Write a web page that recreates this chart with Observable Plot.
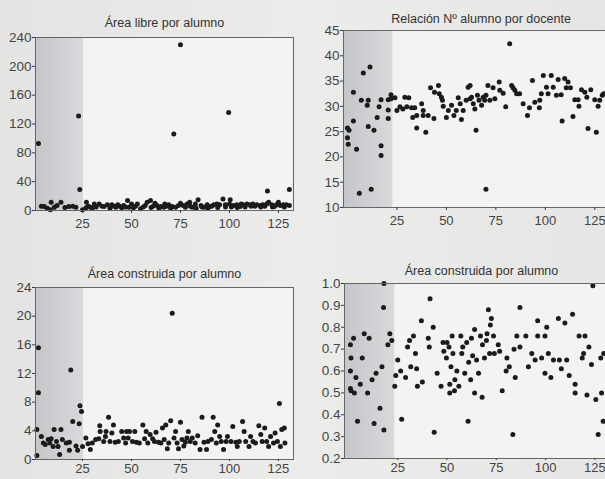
<!DOCTYPE html>
<html>
<head>
<meta charset="utf-8">
<script src="https://cdn.jsdelivr.net/npm/d3@7"></script>
<script src="https://cdn.jsdelivr.net/npm/@observablehq/plot@0.6"></script>
<style>
  html, body { margin: 0; padding: 0; background: #e7e7e5; }
  #page { position: relative; width: 605px; height: 479px; overflow: hidden;
          background: linear-gradient(90deg, #e4e4e2, #ececea 50%, #e6e6e4); }
  .panel { position: absolute; }
</style>
</head>
<body>
<div id="page"></div>
<script>
// ---------- data ----------
const titles = ["Área libre por alumno", "Relación Nº alumno por docente", "Área construida por alumno", "Área construida por alumno"];
const xTicks = [25, 50, 75, 100, 125];
const shadeEnds = [25.5, 23, 25.5, 23.5];

const libre = [[2.5,93],[4,6],[5.5,5.5],[7,3],[8.6,1],[9,11.5],[10.6,4.6],[12,7],[14,11.5],[16,4],[18,5.5],[20,6],[21.6,4.6],[23,131],[23.6,29],[25,1],[26.7,3.7],[27,11.5],[28,6],[29,4.6],[30,3],[31,9],[32,5],[33.5,9],[35,6],[36,5.5],[37.7,8],[39,3],[40,8],[41,6],[42,4.6],[43,8],[44,6],[45,3.7],[46,7],[47,5],[48,14],[48.7,4.6],[50,9],[51,3.7],[52,6],[53,9],[54.6,2.3],[56,5],[57,7],[58,11.5],[59.7,14],[60,4],[61,6],[62,10],[63,7],[64,3],[65,5.5],[66.5,4.6],[67,9],[68,6],[69,8],[70,3],[70.8,5.5],[71.6,106],[72.5,4.6],[74,7],[75,230],[75,10],[76.4,7],[77.5,4.6],[78.4,9],[79.7,11.5],[80,6],[81,4.6],[82.6,9],[83,3],[84,15],[85.5,7],[86,5],[87,4.6],[88.6,8],[89,3],[90,5.5],[91,6],[92,8],[93.6,9],[94,4],[95,8],[96.7,16],[97.9,8],[98,5],[99.6,136],[100,9],[100.4,15],[101,5],[102,7],[103.8,8],[104,4],[105.5,5.5],[106,9],[107,8],[108,5],[109,9],[110.6,8],[111,6],[112,9],[113,6],[114,8],[115.7,7],[116,5],[117,8],[118,6],[119,9],[119.4,27],[120,11.5],[121.6,8],[122,5],[123,5.5],[124,8],[125,11.5],[126,7],[127.5,8],[128,5],[129,8],[130.6,7],[130.6,29]];

const ratio = [[0,25.7],[0.8,25.3],[0,23.8],[0.4,22.5],[3,27.1],[3,32.8],[4.6,21.5],[6,12.8],[7,31.2],[8,36.6],[10.5,31.2],[11.4,37.8],[10,30.2],[10.5,26],[12,13.6],[13.4,25.3],[15,27.8],[16,29.9],[17,31.3],[17,22.2],[17,20.3],[20.6,31.3],[20.6,29.3],[20.6,27.6],[22,32.3],[22,31.5],[24,31.7],[25,29.2],[26.5,29.9],[28,29.5],[29,31.8],[30,29.9],[31,31.7],[32.4,29.7],[34,29.7],[33,27.8],[35,25.7],[35,28.2],[37.5,30.5],[38.3,29.2],[38.3,28.2],[39.6,24.9],[40.8,28.2],[42,33.7],[44,32.8],[46,34.1],[46.4,32.5],[43.7,27.6],[47.5,31.8],[48,31.2],[48.4,30],[50,27.8],[51,29.2],[52.6,30.2],[53.8,28.2],[55,29.2],[56,31.7],[57,30.5],[57.6,27.4],[58.5,29.2],[60,31.2],[61,33.8],[62,34.1],[62,31.5],[62.7,31.8],[63.6,30.5],[64.4,29.5],[65,25.3],[65.7,32.2],[66.5,31.2],[67.8,30.2],[68.6,31.8],[69.4,31.2],[70,32.2],[71,34.1],[70,13.6],[72,31.2],[73.6,33.7],[74.5,31.5],[76.7,34.8],[77,33.2],[78.7,32.6],[80,29.9],[82,42.4],[83,34.1],[83.7,33.7],[84.6,33.2],[85.5,32.5],[87,32.5],[88.8,30.5],[91,28.2],[92,29.7],[93.5,35.1],[94.7,30.8],[97,29.7],[97.2,31.2],[98,32.5],[99,36.1],[100.6,33.8],[101.4,32.5],[103,36.1],[104,33.8],[105.6,32.2],[106.5,35.3],[108,32.3],[108.5,27.1],[109.8,35.5],[110.6,33.7],[111.5,34.8],[112.7,33.7],[114,28],[114.9,31.3],[116.6,31.3],[117,30],[118.3,33.3],[120,32.8],[121,31.8],[121.6,25.6],[123,33.3],[125,31.3],[125.8,24.9],[126.7,30],[127.5,31.2],[128.8,32.2],[129.5,32.5]];

const construida = [[1.7,0.55],[1.7,4.2],[2.5,9.3],[2.5,15.6],[4,3.2],[5,2.3],[6,2.1],[7.5,2.8],[8.3,2.3],[9,2.9],[10,1.8],[10.5,4.2],[11.7,2.5],[12.5,1.8],[13.3,0.7],[14,4.2],[14.7,2.8],[16.7,2.3],[18.3,2.4],[18.3,1.3],[19,12.5],[20,5.3],[21.7,1.9],[22.5,1.3],[23.3,5],[23.7,7.5],[24.5,6.7],[25,1.8],[26.7,3],[27.8,2.2],[29,1.4],[30,2.3],[31.7,2.8],[33.3,2.9],[33.8,4.7],[34,3.9],[35.8,2.5],[36.7,3.2],[37,3.9],[38.3,5.9],[39,2.5],[40,3.7],[40.8,4.8],[41.7,2.4],[43.3,2.5],[45,3.9],[46,3],[47,2.3],[47.5,3.9],[48.3,3],[49,3.9],[50.5,2.5],[51.7,3.9],[52.5,2.4],[54,2.3],[55.8,4.8],[56.7,2.9],[57.5,3.9],[58.3,2.3],[59.5,3.5],[60.8,2.9],[61.7,2.5],[62.5,3.8],[63.8,2.4],[65,2.3],[65.8,4.4],[66.7,2.8],[67.5,4.8],[68.3,1.5],[69,2.3],[70,5.4],[70.8,20.4],[71.7,3],[72.5,3.9],[73.3,2.3],[74,1.5],[75,5.2],[75.8,2.8],[76.7,1.9],[77.5,2.4],[78.3,3],[79,3.9],[80,2.5],[81,3],[82.5,2.3],[83.8,3.3],[85,1.4],[86,5.9],[87,2.4],[88.3,1.4],[89,2.5],[90.8,2.8],[91.7,5.9],[92.5,3.9],[93.3,2.3],[94,4.8],[95,3.2],[95.8,2.5],[97,1.4],[98.3,2.5],[99,3.2],[100.8,2.5],[101.7,4.6],[103.3,2.4],[104,1.8],[105,2.5],[106.7,5.3],[107.5,3.9],[108.3,2.5],[110,1.8],[110.8,3.2],[112,2.5],[113.3,2.3],[115,4.7],[116,3.5],[116.7,2.5],[118,4.4],[119,2.5],[120,1.8],[121,3.2],[122.5,2.3],[123.3,3.7],[124.5,2.5],[125.5,7.8],[126,1.8],[126.7,4.2],[128,4.4],[128.3,2.3]];

const construida2 = [[1,0.72],[1,0.60],[1,0.52],[1.3,0.66],[1.3,0.51],[2.6,0.75],[3,0.50],[3.8,0.57],[4.6,0.37],[6,0.54],[8,0.77],[7,0.66],[9.7,0.50],[10.5,0.75],[12,0.56],[13,0.36],[14,0.59],[16,0.43],[17,0.62],[17.8,0.89],[18,1.0],[18,0.33],[20,0.72],[21,0.77],[22,0.74],[23.5,0.53],[24,0.58],[25,0.65],[26.5,0.60],[27,0.38],[29,0.57],[30,0.71],[31,0.74],[31.6,0.62],[33,0.76],[34,0.68],[34.6,0.61],[35,0.53],[37,0.83],[37.5,0.55],[40.5,0.75],[41,0.71],[41.4,0.93],[43,0.80],[43.5,0.32],[45,0.59],[47,0.53],[48,0.73],[48.4,0.69],[49.7,0.66],[50,0.73],[51,0.71],[51.4,0.54],[51.4,0.50],[52.6,0.76],[52,0.62],[53,0.68],[53.8,0.51],[54,0.56],[55,0.60],[56,0.53],[57,0.76],[57.5,0.68],[58,0.71],[59,0.59],[60.7,0.37],[60,0.73],[61,0.64],[62,0.56],[62.4,0.75],[63,0.67],[64,0.79],[64,0.50],[65,0.65],[66,0.59],[67,0.76],[67.8,0.48],[68,0.72],[69,0.66],[70,0.74],[70.3,0.77],[71,0.88],[72,0.81],[72.5,0.84],[71.6,0.68],[73.6,0.76],[74,0.68],[76,0.72],[76.7,0.69],[78,0.51],[80,0.60],[80.4,0.66],[81.6,0.62],[83.4,0.31],[84,0.70],[84.6,0.57],[85.4,0.76],[87,0.71],[87,0.89],[90,0.76],[91.3,0.62],[93,0.68],[94.7,0.65],[96,0.83],[96,0.76],[98,0.66],[99.7,0.76],[100.6,0.80],[99.7,0.59],[101.4,0.68],[102.7,0.57],[104,0.65],[106.5,0.84],[107,0.65],[108,0.61],[109.8,0.82],[110.7,0.65],[112,0.58],[113.7,0.86],[115,0.54],[115,0.50],[117,0.76],[118.6,0.66],[119.3,0.68],[120,0.76],[121,0.49],[122,0.71],[123.3,0.63],[124,0.99],[125.5,0.47],[126.7,0.31],[128.4,0.50],[128,0.66],[129.2,0.37],[129.5,0.68]];

// ---------- drawing ----------
const font = "'Liberation Sans', Arial, Helvetica, sans-serif";

function panel(cfg, idx) {
  const pts = cfg.data.map(([x, y]) => ({x, y}));
  const gid = "shade" + idx;
  const shade = [{x1: cfg.xDomain[0], x2: shadeEnds[idx], y1: cfg.yDomain[0], y2: cfg.yDomain[1]}];
  const node = Plot.plot({
    width: cfg.width, height: cfg.height,
    marginLeft: cfg.ml, marginRight: cfg.mr, marginTop: cfg.mt, marginBottom: cfg.mb,
    style: {background: "transparent", fontFamily: font, fontSize: "13px", color: "#3c3c3c", overflow: "visible"},
    x: {domain: cfg.xDomain, label: null},
    y: {domain: cfg.yDomain, label: null},
    marks: [
      () => {
        const g = d3.create("svg:g");
        const lg = g.append("defs").append("linearGradient").attr("id", gid).attr("x1", "0").attr("x2", "1").attr("y1", "0").attr("y2", "0");
        lg.append("stop").attr("offset", "0%").attr("stop-color", "#c4c6c9");
        lg.append("stop").attr("offset", "100%").attr("stop-color", "#d7d9db");
        return g.node();
      },
      Plot.frame({fill: "#f3f3f1"}),
      Plot.rect(shade, {x1: "x1", x2: "x2", y1: "y1", y2: "y2", fill: `url(#${gid})`}),
      Plot.dot(pts, {x: "x", y: "y", r: 2.5, fill: "#1b1b1b", stroke: "none"}),
      Plot.frame({stroke: "#666"}),
      Plot.axisX({ticks: xTicks, tickSize: cfg.xTickSize, tickPadding: cfg.xTickPad, fontSize: 13, fill: "#444"}),
      Plot.axisY({ticks: cfg.yTicks, tickFormat: cfg.yFormat, tickSize: 3, tickPadding: 1, fontSize: 13.5, fill: "#444"}),
      Plot.text([titles[idx]], {frameAnchor: "top", dy: cfg.titleDy, lineAnchor: "middle", fontSize: 12.5, fill: "#333", fontFamily: font})
    ]
  });
  node.classList.add("panel");
  node.style.left = cfg.left + "px";
  node.style.top = cfg.top + "px";
  return node;
}

const page = document.getElementById("page");
const configs = [
  {data: libre, left: 0, top: 0, width: 300, height: 235, ml: 35, mr: 7, mt: 37, mb: 25, xTickSize: 3, xTickPad: 5,
   xDomain: [1, 132.7], yDomain: [0, 240], yTicks: [0, 40, 80, 120, 160, 200, 240], yFormat: d3.format("d"), titleDy: -15},
  {data: ratio, left: 300, top: 0, width: 320, height: 235, ml: 43, mr: 2, mt: 30, mb: 28, xTickSize: 3, xTickPad: 5,
   xDomain: [-2, 137], yDomain: [10, 45], yTicks: [10, 15, 20, 25, 30, 35, 40, 45], yFormat: d3.format("d"), titleDy: -12},
  {data: construida, left: 0, top: 240, width: 300, height: 239, ml: 35, mr: 7, mt: 47, mb: 20, xTickSize: 2, xTickPad: 2,
   xDomain: [1, 132.7], yDomain: [0, 24], yTicks: [0, 4, 8, 12, 16, 20, 24], yFormat: d3.format("d"), titleDy: -14},
  {data: construida2, left: 300, top: 240, width: 320, height: 239, ml: 44, mr: 2, mt: 43, mb: 21, xTickSize: 2, xTickPad: 2,
   xDomain: [-2, 137], yDomain: [0.2, 1.0], yTicks: [0.2, 0.3, 0.4, 0.5, 0.6, 0.7, 0.8, 0.9, 1.0], yFormat: d3.format(".1f"), titleDy: -13}
];
configs.forEach((c, i) => page.appendChild(panel(c, i)));
</script>
</body>
</html>
